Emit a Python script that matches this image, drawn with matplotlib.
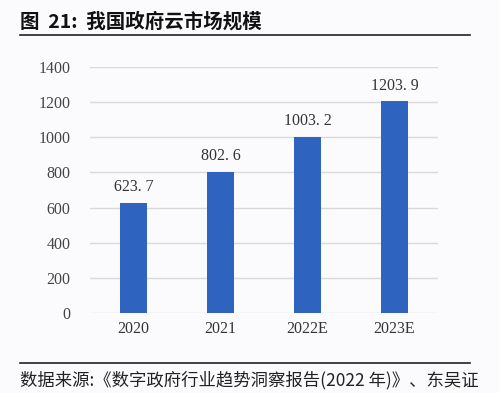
import matplotlib.pyplot as plt
from matplotlib.lines import Line2D

# 数据
years = ["2020", "2021", "2022E", "2023E"]
market = [623.7, 802.6, 1003.2, 1203.9]
yticks = [0, 200, 400, 600, 800, 1000, 1200, 1400]

cjk = ["Noto Sans CJK SC", "DejaVu Sans"]
num_font = "Liberation Serif"
bar_color = "#2f63c0"

fig = plt.figure(figsize=(4.99, 3.93), dpi=100, facecolor="#fbfbfd")
ax = fig.add_axes([90 / 499, 1 - 313 / 393, 348 / 499, 246 / 393])
ax.set_facecolor("#fbfbfd")

x = range(len(years))
ax.bar(x, market, width=0.31, color=bar_color, zorder=3)
for i, v in zip(x, market):
    ax.text(i, v + 45, "{:.1f}".format(v).replace(".", ". "), ha="center", va="bottom",
            fontsize=11.5, family=num_font, color="#333333")

ax.set_xlim(-0.5, 3.5)
ax.set_ylim(0, 1400)
ax.set_yticks(yticks)
ax.set_yticklabels([str(t) for t in yticks], family=num_font, fontsize=11.5, color="#444444")
ax.set_xticks(list(x))
ax.set_xticklabels(years, family=num_font, fontsize=11.5, color="#333333")
ax.tick_params(length=0, pad=14, axis="y")
ax.tick_params(length=0, pad=6, axis="x")
ax.grid(axis="y", color="#d9d9d9", linewidth=1, zorder=0)
for s in ax.spines.values():
    s.set_visible(False)

# 标题与来源
fig.text(20 / 499, 1 - 22 / 393, "图  21:  我国政府云市场规模", family=cjk, fontsize=14,
         fontweight="bold", va="center", ha="left", color="#111111")
fig.add_artist(Line2D([20 / 499, 470 / 499], [1 - 35 / 393] * 2, color="#222222", lw=1.2))
fig.add_artist(Line2D([20 / 499, 470 / 499], [1 - 363 / 393] * 2, color="#222222", lw=1.2))
fig.text(20 / 499, 1 - 380 / 393, "数据来源:《数字政府行业趋势洞察报告(2022 年)》、东吴证",
         family=cjk, fontsize=12.5, va="center", ha="left", color="#222222")

fig.savefig("out.png", dpi=100, facecolor=fig.get_facecolor())
